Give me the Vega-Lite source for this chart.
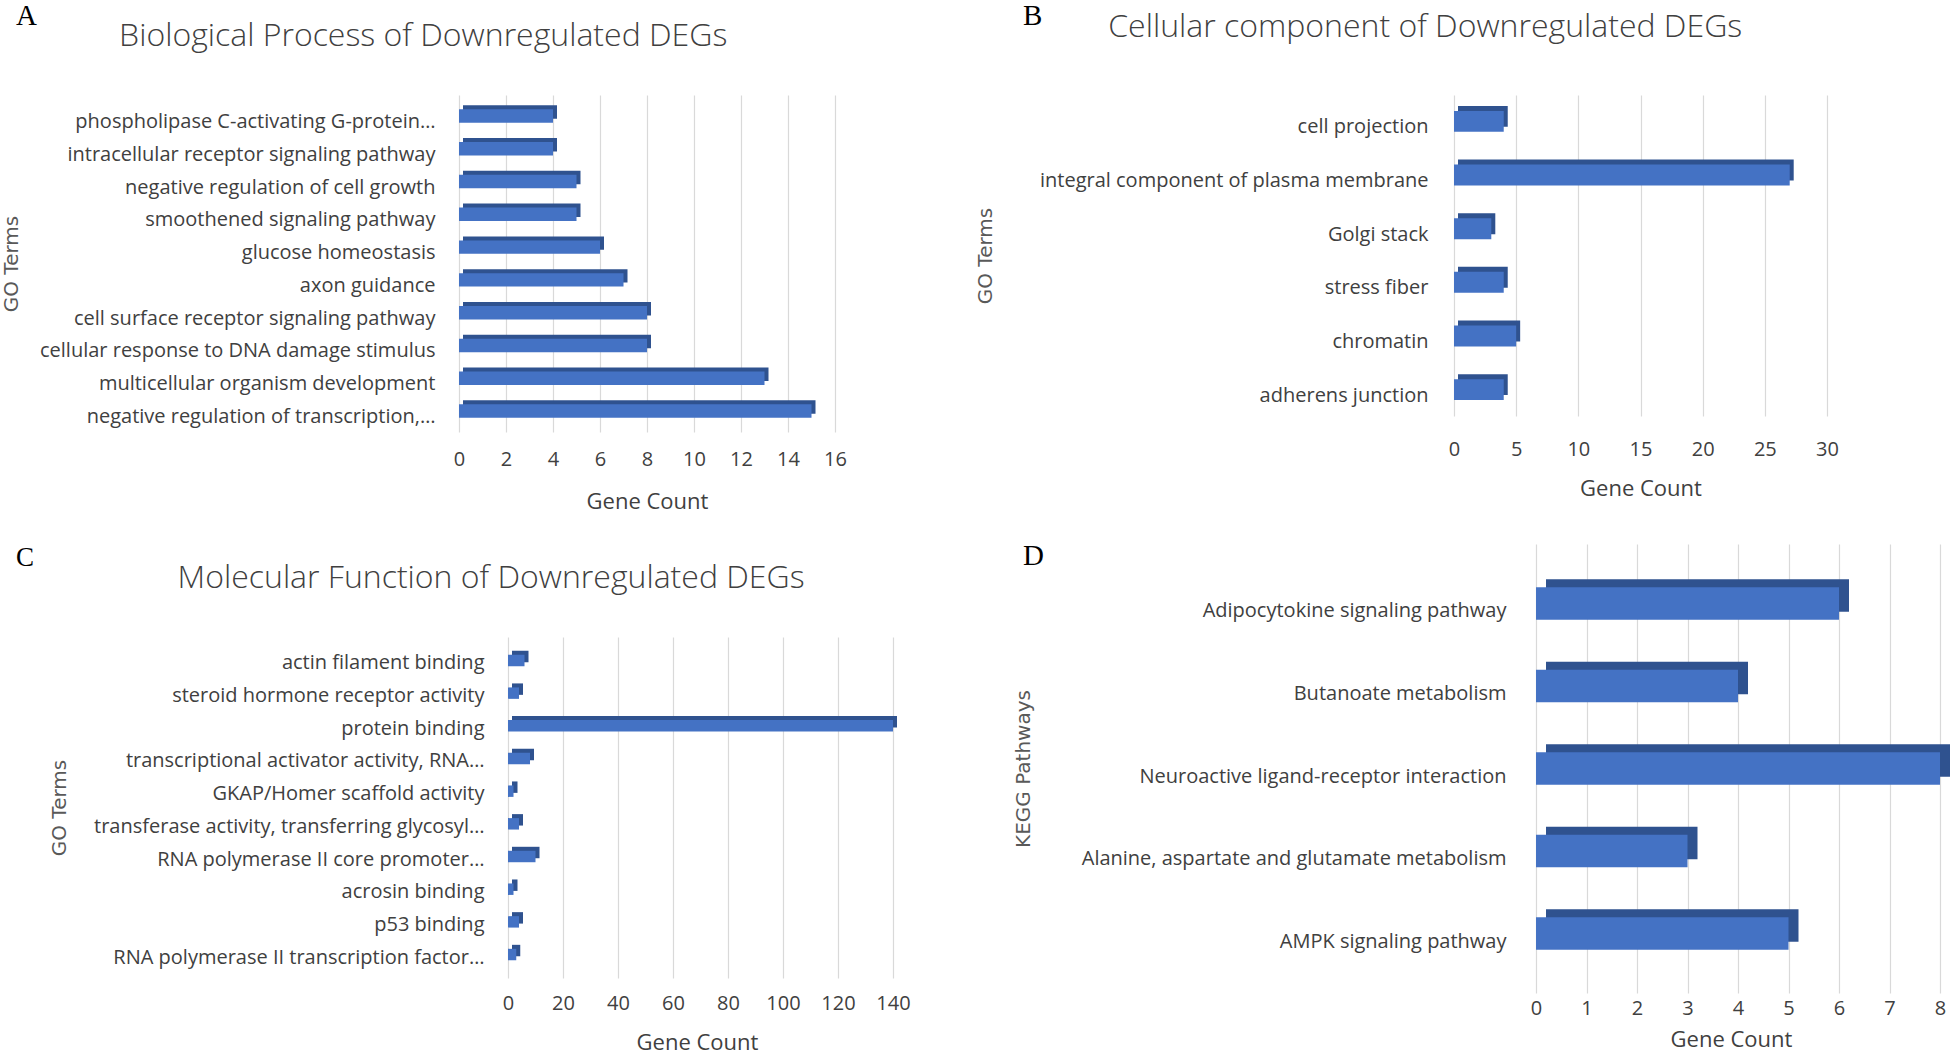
{
  "$schema": "https://vega.github.io/schema/vega-lite/v6.json",
  "background": "white",
  "padding": {"left": 0, "top": 2, "right": 0, "bottom": 0},
  "config": {
    "view": {"stroke": null},
    "font": "Open Sans",
    "axis": {"domain": false, "ticks": false, "labelColor": "#404040", "titleColor": "#404040", "titleFontWeight": "normal", "labelFont": "Open Sans", "titleFont": "Open Sans", "labelFontSize": 20, "titleFontSize": 22, "gridColor": "#D9D9D9", "gridWidth": 1.2},
    "axisY": {"titleFont": "DejaVu Sans", "titleFontSize": 20, "titleColor": "#595959", "titleBaseline": "middle", "labelLimit": 600, "grid": false},
    "axisX": {"labelFlush": false, "grid": true},
    "title": {"font": "Open Sans", "fontWeight": 300, "fontSize": 32, "color": "#404040"},
    "concat": {"spacing": 0}
  },
  "datasets": {
    "bp": [
      {"term": "phospholipase C-activating G-protein…", "count": 4},
      {"term": "intracellular receptor signaling pathway", "count": 4},
      {"term": "negative regulation of cell growth", "count": 5},
      {"term": "smoothened signaling pathway", "count": 5},
      {"term": "glucose homeostasis", "count": 6},
      {"term": "axon guidance", "count": 7},
      {"term": "cell surface receptor signaling pathway", "count": 8},
      {"term": "cellular response to DNA damage stimulus", "count": 8},
      {"term": "multicellular organism development", "count": 13},
      {"term": "negative regulation of transcription,…", "count": 15}
    ],
    "cc": [
      {"term": "cell projection", "count": 4},
      {"term": "integral component of plasma membrane", "count": 27},
      {"term": "Golgi stack", "count": 3},
      {"term": "stress fiber", "count": 4},
      {"term": "chromatin", "count": 5},
      {"term": "adherens junction", "count": 4}
    ],
    "mf": [
      {"term": "actin filament binding", "count": 6},
      {"term": "steroid hormone receptor activity", "count": 4},
      {"term": "protein binding", "count": 140},
      {"term": "transcriptional activator activity, RNA…", "count": 8},
      {"term": "GKAP/Homer scaffold activity", "count": 2},
      {"term": "transferase activity, transferring glycosyl…", "count": 4},
      {"term": "RNA polymerase II core promoter…", "count": 10},
      {"term": "acrosin binding", "count": 2},
      {"term": "p53 binding", "count": 4},
      {"term": "RNA polymerase II transcription factor…", "count": 3}
    ],
    "kegg": [
      {"term": "Adipocytokine signaling pathway", "count": 6},
      {"term": "Butanoate metabolism", "count": 4},
      {"term": "Neuroactive ligand-receptor interaction", "count": 8},
      {"term": "Alanine, aspartate and glutamate metabolism", "count": 3},
      {"term": "AMPK signaling pathway", "count": 5}
    ]
  },
  "columns": 2,
  "align": "none",
  "spacing": 63,
  "concat": [
    {
      "columns": 1,
      "spacing": 31,
      "align": "none",
      "concat": [
        {
          "title": {"text": "A", "anchor": "start", "frame": "bounds", "font": "Liberation Serif", "fontWeight": "normal", "fontSize": 29, "color": "#000000", "dx": 16, "dy": 11, "offset": 0},
          "vconcat": [
            {
              "title": {"text": "Biological Process of Downregulated DEGs", "anchor": "middle", "frame": "bounds", "offset": 42},
              "width": 376,
              "height": 337,
              "data": {"name": "bp"},
              "encoding": {
                "y": {"field": "term", "type": "nominal", "sort": null, "scale": {"paddingInner": 0.59, "paddingOuter": 0.436},
                  "axis": {"title": "GO Terms", "minExtent": 459, "maxExtent": 459, "labelPadding": 24, "labelOffset": 6, "titleX": -448}},
                "x": {"field": "count", "type": "quantitative", "scale": {"domain": [0, 16], "nice": false},
                  "axis": {"title": "Gene Count", "values": [0, 2, 4, 6, 8, 10, 12, 14, 16], "labelPadding": 17, "titlePadding": 22}}
              },
              "layer": [
                {"mark": {"type": "bar", "color": "#2F528F", "xOffset": 4, "x2Offset": 4, "yOffset": -4, "y2Offset": -4}},
                {"mark": {"type": "bar", "color": "#4472C4"}}
              ]
            }
          ]
        },
        {
          "title": {"text": "C", "anchor": "start", "frame": "bounds", "font": "Liberation Serif", "fontWeight": "normal", "fontSize": 27, "color": "#000000", "dx": 16, "dy": 9.5, "offset": 0},
          "vconcat": [
            {
              "title": {"text": "Molecular Function of Downregulated DEGs", "anchor": "middle", "frame": "bounds", "offset": 42, "dx": 36},
              "width": 434,
              "height": 341,
              "data": {"name": "mf"},
              "encoding": {
                "y": {"field": "term", "type": "nominal", "sort": null, "scale": {"paddingInner": 0.65, "paddingOuter": 0.543},
                  "axis": {"title": "GO Terms", "minExtent": 459, "maxExtent": 459, "labelPadding": -25, "labelOffset": 3, "titleX": -400}},
                "x": {"field": "count", "type": "quantitative", "scale": {"domain": [-17.82, 140], "nice": false, "zero": false},
                  "axis": {"title": "Gene Count", "values": [0, 20, 40, 60, 80, 100, 120, 140], "labelPadding": 15, "titlePadding": 19, "titleX": 238}}
              },
              "layer": [
                {"mark": {"type": "bar", "color": "#2F528F", "xOffset": 4, "x2Offset": 4, "yOffset": -4, "y2Offset": -4}},
                {"mark": {"type": "bar", "color": "#4472C4"}}
              ]
            }
          ]
        }
      ]
    },
    {
      "columns": 1,
      "spacing": 42,
      "align": "none",
      "concat": [
        {
          "title": {"text": "B", "anchor": "start", "frame": "bounds", "font": "Liberation Serif", "fontWeight": "normal", "fontSize": 29, "color": "#000000", "dx": 49, "dy": 20, "offset": 0},
          "vconcat": [
            {
              "title": {"text": "Cellular component of Downregulated DEGs", "anchor": "middle", "frame": "bounds", "offset": 51, "dx": 19},
              "width": 373,
              "height": 321,
              "data": {"name": "cc"},
              "encoding": {
                "y": {"field": "term", "type": "nominal", "sort": null, "scale": {"paddingInner": 0.61, "paddingOuter": 0.296},
                  "axis": {"title": "GO Terms", "minExtent": 480, "maxExtent": 480, "labelPadding": 26, "labelOffset": 6, "titleX": -469}},
                "x": {"field": "count", "type": "quantitative", "scale": {"domain": [0, 30], "nice": false},
                  "axis": {"title": "Gene Count", "values": [0, 5, 10, 15, 20, 25, 30], "labelPadding": 23, "titlePadding": 19}}
              },
              "layer": [
                {"mark": {"type": "bar", "color": "#2F528F", "xOffset": 4, "x2Offset": 4, "yOffset": -5, "y2Offset": -5}},
                {"mark": {"type": "bar", "color": "#4472C4"}}
              ]
            }
          ]
        },
        {
          "title": {"text": "D", "anchor": "start", "frame": "bounds", "font": "Liberation Serif", "fontWeight": "normal", "fontSize": 29, "color": "#000000", "dx": 49, "dy": 26.5, "offset": 0},
          "vconcat": [
            {
              "width": 486,
              "height": 449,
              "data": {"name": "kegg"},
              "encoding": {
                "y": {"field": "term", "type": "nominal", "sort": null, "scale": {"paddingInner": 0.605, "paddingOuter": 0.523},
                  "axis": {"title": "KEGG Pathways", "minExtent": 480, "maxExtent": 480, "labelPadding": -52, "labelOffset": 8, "titleX": -430.5}},
                "x": {"field": "count", "type": "quantitative", "scale": {"domain": [-1.624, 8], "nice": false, "zero": false},
                  "axis": {"title": "Gene Count", "values": [0, 1, 2, 3, 4, 5, 6, 7, 8], "labelPadding": 5, "titlePadding": 11, "titleX": 277}}
              },
              "layer": [
                {"mark": {"type": "bar", "color": "#2F528F", "xOffset": 10, "x2Offset": 10, "yOffset": -8, "y2Offset": -8}},
                {"mark": {"type": "bar", "color": "#4472C4"}}
              ]
            }
          ]
        }
      ]
    }
  ]
}
